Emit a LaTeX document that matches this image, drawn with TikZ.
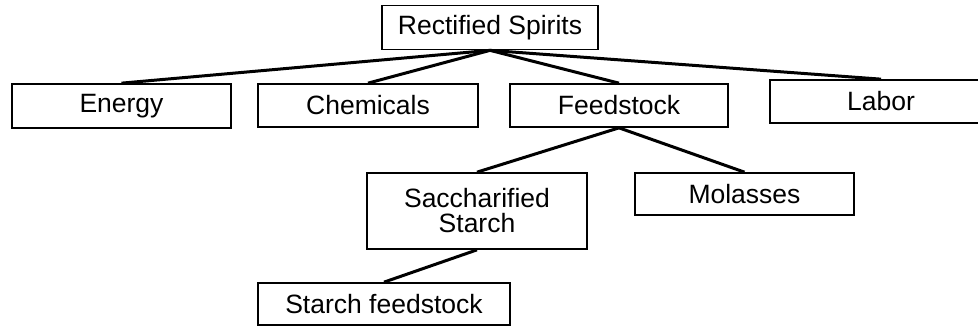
\documentclass[tikz,border=0pt]{standalone}
\usepackage{fontspec}
\setmainfont{Liberation Sans}
\begin{document}
\begin{tikzpicture}[x=1pt,y=-1pt,
  box/.style={draw,line width=1.7pt,inner sep=0pt,rectangle,align=center,
    font=\fontsize{26.5}{25}\selectfont},
  link/.style={line width=3pt}]
\useasboundingbox (0,0) rectangle (978,327);
\node[box,minimum width=216pt,minimum height=44pt] (rs) at (490,27.5) {Rectified Spirits};
\node[box,minimum width=219pt,minimum height=44pt] (en) at (121.5,106) {Energy};
\node[box,minimum width=220pt,minimum height=43pt] (ch) at (368,105.5) {Chemicals};
\node[box,minimum width=218pt,minimum height=43pt] (fs) at (619,105.5) {Feedstock};
\node[box,minimum width=222pt,minimum height=43pt] (lb) at (881,101.5) {Labor};
\node[box,minimum width=220pt,minimum height=76pt] (sc) at (477,211) {Saccharified\\Starch};
\node[box,minimum width=219pt,minimum height=42pt] (ml) at (744.5,194) {Molasses};
\node[box,minimum width=252pt,minimum height=42pt] (sf) at (384,304) {Starch feedstock};
\draw[link] (rs.south) -- (en.north);
\draw[link] (rs.south) -- (ch.north);
\draw[link] (rs.south) -- (fs.north);
\draw[link] (rs.south) -- (lb.north);
\draw[link] (fs.south) -- (sc.north);
\draw[link] (fs.south) -- (ml.north);
\draw[link] (sc.south) -- (sf.north);
\end{tikzpicture}
\end{document}
